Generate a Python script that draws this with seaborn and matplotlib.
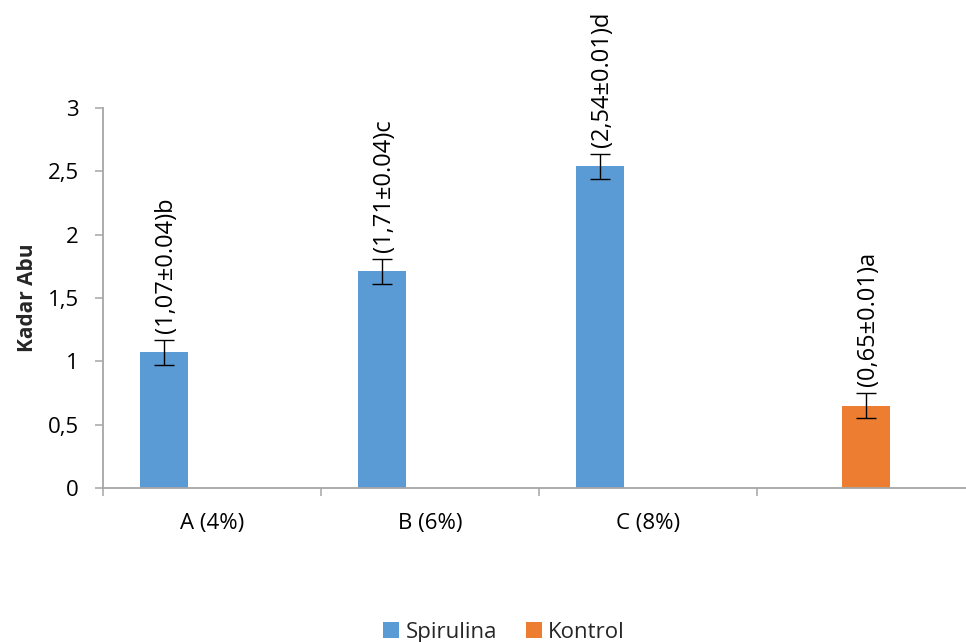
import matplotlib
matplotlib.use("Agg")
import matplotlib.pyplot as plt
import matplotlib.ticker as mticker
from matplotlib.patches import Patch
import seaborn as sns
import pandas as pd

# ---- data ----
categories = ["A (4%)", "B (6%)", "C (8%)", " "]
series_names = ["Spirulina", "Kontrol"]
spirulina_values = [1.07, 1.71, 2.54]
spirulina_cats = ["A (4%)", "B (6%)", "C (8%)"]
kontrol_values = [0.65]
kontrol_cats = [" "]
spirulina_err = [0.1, 0.1, 0.1]
kontrol_err = [0.1]
spirulina_labels = ["(1,07±0.04)b", "(1,71±0.04)c", "(2,54±0.01)d"]
kontrol_labels = ["(0,65±0.01)a"]
y_ticks = [0, 0.5, 1, 1.5, 2, 2.5, 3]
y_label = "Kadar Abu"

colors = {"Spirulina": "#5B9BD5", "Kontrol": "#ED7D31", "_empty": "#FFFFFF"}
axis_gray = "#A6A6A6"

df = pd.DataFrame({
    "cat": spirulina_cats + kontrol_cats,
    "series": ["Spirulina"] * len(spirulina_cats) + ["Kontrol"] * len(kontrol_cats),
    "value": spirulina_values + kontrol_values,
    "err": spirulina_err + kontrol_err,
    "label": spirulina_labels + kontrol_labels,
})

sns.set_theme(style="white")
plt.rcParams["font.family"] = ["Open Sans", "DejaVu Sans"]

fig = plt.figure(figsize=(9.66, 6.42), dpi=100)
ax = fig.add_axes([103 / 966, 1 - 488 / 642, 1 - 103 / 966, (488 - 108) / 642])

hue_order = ["Spirulina", "Kontrol", "_empty"]
sns.barplot(data=df, x="cat", y="value", hue="series", order=categories,
            hue_order=hue_order, palette=colors, width=0.66, dodge=True,
            errorbar=None, saturation=1, linewidth=0, legend=False, ax=ax)

# error bars and labels positioned from the drawn bars
for patch in ax.patches:
    h = patch.get_height()
    if h != h or h == 0:
        continue
    cx = patch.get_x() + patch.get_width() / 2
    cat = categories[int(round(cx))]
    row = df[(df["cat"] == cat) & (abs(df["value"] - h) < 1e-9)]
    if row.empty:
        continue
    r = row.iloc[0]
    ax.errorbar(cx, r["value"], yerr=r["err"], fmt="none", ecolor="black",
                elinewidth=1.0, capsize=7.5, capthick=1.0, zorder=5)
    ax.text(cx + 0.01, r["value"] + 0.155, r["label"], rotation=90, ha="center",
            va="bottom", fontsize=17, color="black", clip_on=False)

ax.set_yticks(y_ticks)
ax.yaxis.set_major_formatter(mticker.FuncFormatter(lambda v, p: f"{v:g}".replace(".", ",")))
ax.set_xlabel("")
ax.set_ylabel(y_label, fontsize=15, fontweight="bold", labelpad=7)

# spines
for s in ["top", "right"]:
    ax.spines[s].set_visible(False)
for s in ["left", "bottom"]:
    ax.spines[s].set_color(axis_gray)
    ax.spines[s].set_linewidth(1.3)

ax.tick_params(axis="y", which="major", direction="out", length=5.5, width=1.1,
               color=axis_gray, left=True, labelsize=16, pad=12, labelcolor="black")
# category boundaries as minor tick marks, labels at centers
ax.set_xticks([i - 0.5 for i in range(len(categories) + 1)], minor=True)
ax.tick_params(axis="x", which="minor", direction="out", length=5.5, width=1.1,
               color=axis_gray, bottom=True)
ax.tick_params(axis="x", which="major", length=0, labelsize=16, pad=18, labelcolor="black")
ax.grid(False)

ax.set_ylim(0, 3)
ax.set_xlim(-0.5, -0.5 + 863 / 218)

handles = [Patch(facecolor=colors[n], edgecolor="none", label=n) for n in series_names]
fig.legend(handles=handles, loc="lower center", bbox_to_anchor=(0.522, -0.032),
           ncol=2, frameon=False, fontsize=16, handlelength=0.7, handleheight=0.7,
           handletextpad=0.3, columnspacing=1.3)

fig.savefig("out.png", dpi=100)
